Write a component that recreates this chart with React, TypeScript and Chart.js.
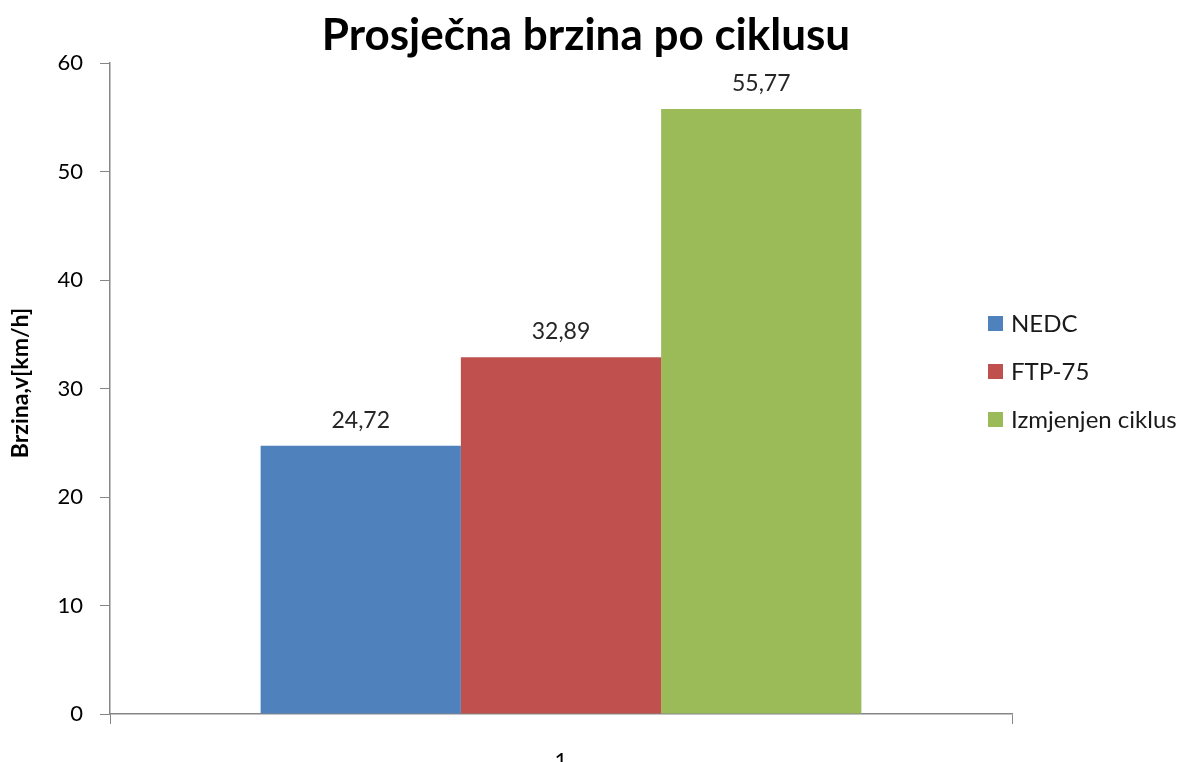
import React, { useEffect, useRef } from "react";
import { Chart, registerables } from "chart.js";

Chart.register(...registerables);

const categories = ["1"];
const seriesNames = ["NEDC", "FTP-75", "Izmjenjen ciklus"];
const seriesValues = [[24.72], [32.89], [55.77]];
const seriesColors = ["#4F81BD", "#C0504D", "#9BBB59"];
const titleText = "Prosječna brzina po ciklusu";
const yAxisTitle = "Brzina,v[km/h]";
const FONT = "Lato, 'Open Sans', sans-serif";

const fmt = (v: number) => v.toFixed(2).replace(".", ",");

const customDraw = {
  id: "customDraw",
  afterDatasetsDraw(chart: any) {
    const ctx = chart.ctx;
    ctx.save();
    // data labels
    ctx.fillStyle = "#262626";
    ctx.font = `23px ${FONT}`;
    ctx.textAlign = "center";
    ctx.textBaseline = "alphabetic";
    chart.data.datasets.forEach((ds: any, i: number) => {
      const meta = chart.getDatasetMeta(i);
      meta.data.forEach((bar: any, j: number) => {
        ctx.fillText(fmt(ds.data[j]), bar.x, bar.y - 18);
      });
    });
    // title
    ctx.fillStyle = "#000";
    ctx.font = `bold 44px ${FONT}`;
    ctx.textBaseline = "middle";
    ctx.fillText(titleText, 586, 36);
    // y-axis title
    ctx.save();
    ctx.translate(21, 383);
    ctx.rotate(-Math.PI / 2);
    ctx.font = `bold 23px ${FONT}`;
    ctx.fillText(yAxisTitle, 0, 0);
    ctx.restore();
    // legend
    ctx.textAlign = "left";
    ctx.font = `24px ${FONT}`;
    seriesNames.forEach((name, i) => {
      const y = 323 + i * 48;
      ctx.fillStyle = seriesColors[i];
      ctx.fillRect(988, y - 7, 15, 15);
      ctx.fillStyle = "#1a1a1a";
      ctx.fillText(name, 1011, y + 1);
    });
    ctx.restore();
  },
};

export default function App() {
  const ref = useRef<HTMLCanvasElement>(null);
  useEffect(() => {
    document.body.style.margin = "0";
    const chart = new Chart(ref.current as HTMLCanvasElement, {
      type: "bar",
      data: {
        labels: categories,
        datasets: seriesNames.map((n, i) => ({
          label: n,
          data: seriesValues[i],
          backgroundColor: seriesColors[i],
          borderWidth: 0,
          categoryPercentage: 0.666,
          barPercentage: 1,
        })),
      },
      options: {
        animation: false,
        responsive: false,
        maintainAspectRatio: false,
        layout: { padding: { left: 0, right: 176, top: 63, bottom: 0 } },
        plugins: { legend: { display: false }, title: { display: false }, tooltip: { enabled: false } },
        scales: {
          x: {
            grid: { drawOnChartArea: false, drawTicks: true, tickLength: 10, color: "#868686", offset: true },
            border: { display: true, color: "#868686", width: 1.5 },
            ticks: { font: { family: FONT, size: 22 }, color: "#000", padding: 24 },
            afterFit: (s: any) => { s.height = 48; },
          },
          y: {
            min: 0,
            max: 60,
            ticks: { stepSize: 10, font: { family: FONT, size: 22 }, color: "#000", padding: 17 },
            grid: { drawOnChartArea: false, drawTicks: true, tickLength: 10, color: "#868686" },
            border: { display: true, color: "#868686", width: 1.5 },
            afterFit: (s: any) => { s.width = 110; },
          },
        },
      },
      plugins: [customDraw],
    });
    return () => chart.destroy();
  }, []);
  return <canvas ref={ref} width={1188} height={762} style={{ display: "block" }} />;
}
